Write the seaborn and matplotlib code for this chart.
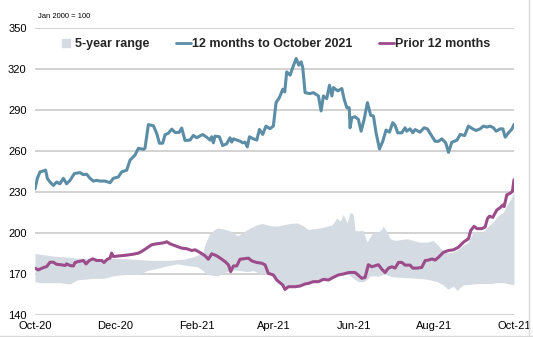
import matplotlib
matplotlib.use("Agg")
import matplotlib.pyplot as plt
import matplotlib.dates as mdates
from matplotlib.lines import Line2D
import numpy as np
import pandas as pd
import seaborn as sns

# Index level, Jan 2000 = 100. Positions are days after 1 Oct 2020.
start = pd.Timestamp("2020-10-01")

current_day = [0, 1.8, 3.8, 6.4, 8.1, 9.4, 11.4, 14, 16.5, 19, 21.6, 24.1, 26.7, 30, 34.3,
               36.8, 39.4, 41.9, 44.5, 47, 49.5, 53.4, 57.2, 59.7, 63.5, 66, 69.9, 72.4,
               76.2, 78.8, 82.6, 83.8, 86.4, 90.2, 92.7, 94.8, 97.3, 99.1, 101.6, 104.2,
               106.7, 109.8, 111.8, 114.3, 118.1, 120.7, 123.2, 127.8, 130.8, 133.4, 134.6,
               135.9, 137.2, 140.5, 143, 146, 148.6, 149.9, 151.2, 153.7, 156.2, 158.3, 160,
               161.8, 163.4, 166.4, 169, 171, 173.5, 176, 179, 181.6, 183.7, 186.2, 188.8,
               190.3, 191.8, 194.4, 196.4, 199, 201, 202.8, 204, 205.8, 209.6, 212.1, 216,
               218, 219.8, 222.3, 224.4, 226.2, 227.4, 230.7, 233.8, 235.6, 237.6, 239.4,
               240.1, 241.4, 243.9, 246.4, 248.5, 250.8, 253.3, 255.8, 257.9, 259.9, 262.5,
               265, 267.5, 270.1, 272.6, 274.4, 276.4, 279.5, 282, 283.3, 285.8, 287.9,
               289.6, 293.4, 296.5, 299, 301.6, 304.9, 307.4, 310, 313, 315.1, 317.6, 321.5,
               324, 327.4, 330.2, 333.6, 336.1, 339.2, 341.7, 344.3, 346.8, 349.3, 351.4,
               354.4, 356.5, 358.3, 360.8, 363.5, 365]
current_val = [232.3, 240, 244.7, 245.4, 246, 240, 237.3, 234.8, 237.3, 236, 240, 236, 238.5,
               243.5, 244.2, 242.7, 243, 240, 238, 238.5, 238, 238, 236.8, 240, 241, 244.7,
               246, 253.3, 257, 262, 261.2, 262, 279.3, 278.5, 273, 265.7, 265.7, 271.9, 273,
               276, 273.6, 273.6, 276.8, 267.7, 268, 271.4, 269.7, 272.1, 270.1, 268, 270.4,
               266, 270.9, 270.4, 264, 265.2, 269.7, 266.5, 268.9, 268, 267.2, 266, 266.5,
               263, 270.4, 268.9, 268, 275.8, 272.1, 278.2, 276.3, 278.2, 295.4, 299, 305.2,
               303.2, 317.9, 315.5, 321.1, 327.7, 322.8, 325.3, 321.1, 302.7, 302, 302.7,
               300.3, 289.3, 300.3, 298.3, 308.1, 300.3, 306.4, 304, 305.7, 297.8, 291.7,
               291.7, 277, 284.3, 285.1, 283.1, 274.5, 283.1, 295.4, 286.1, 285.6, 273.3,
               261.5, 267.1, 275.3, 273.8, 280.7, 278.7, 273.3, 273.3, 277, 274.5, 276.2,
               273.3, 275.7, 273.8, 277, 276.2, 272.1, 267.1, 267.1, 268.9, 265.9, 259,
               266.4, 267.9, 272.1, 271.3, 278.2, 276.2, 275, 276.2, 278.2, 277.5, 278.2,
               277, 274.5, 276.2, 276.2, 270.1, 273.3, 276.2, 279.4]

prior_day = [0, 2.5, 6.4, 8.9, 11.4, 14, 16.5, 20.3, 22.9, 24.1, 26.7, 29.2, 30.5, 33, 36.8,
             38.9, 41.4, 44, 47, 50.8, 52.6, 55.1, 57.2, 58.4, 59.7, 64.8, 69.9, 74.9, 78.8,
             81.3, 85.1, 88.9, 92.7, 96.6, 99.1, 100.4, 102.9, 106.7, 111.8, 115.6, 119.4,
             122, 125.8, 129.6, 132.1, 134.7, 138.5, 142.3, 144.8, 147.4, 149.1, 151.2,
             153.7, 156.2, 162.6, 165.2, 169, 172.8, 175.3, 177.8, 181.6, 184.2, 186.7,
             188.8, 190.5, 193.1, 198.2, 202, 205.8, 208.3, 212.1, 216, 219.8, 223.6, 227.4,
             231.2, 235, 238.8, 240.1, 243.9, 246.4, 248.9, 251.5, 254, 256.6, 259.1, 261.7,
             264.2, 266.8, 269.3, 271.9, 274.4, 277, 279.5, 282, 285.8, 287.9, 290.9, 294.7,
             297.3, 299.8, 302.4, 304.9, 307.4, 311.3, 315.1, 318.9, 322.7, 326.5, 330.3,
             332.1, 334.6, 336.7, 340.5, 343, 344.8, 346.3, 348.8, 351.9, 354.4, 356.5,
             357.5, 359.5, 362.1, 363.8, 365]
prior_val = [174.2, 173, 174.7, 175.4, 178.6, 178.6, 177.1, 176.7, 176.2, 177.4, 176.2, 175.9,
             178.4, 179.1, 179.9, 177.4, 179.9, 181.1, 179.9, 179.9, 178.4, 180.8, 181.6,
             185.3, 182.8, 183.3, 183.8, 184.5, 185.3, 186.5, 188.9, 191.4, 192.1, 192.6,
             193.1, 193.6, 192.1, 190.7, 188.9, 188.5, 187.2, 187.7, 185.7, 183.3, 180.8,
             184.8, 183.3, 180.8, 179.1, 176.7, 171.7, 175.9, 175.9, 180.8, 181.6, 179.6,
             178.4, 177.9, 176.7, 170.5, 169.3, 165.6, 163.6, 161.9, 158.7, 160.7, 160.7,
             161.2, 162.7, 163.1, 164.4, 164.4, 166.1, 165.6, 167.6, 169.3, 170, 171, 171.1,
             171.1, 169.1, 166.9, 167.4, 176.8, 175.3, 176, 176.8, 173.6, 171.1, 174.3,
             175.3, 174.3, 178.5, 178.5, 176.5, 176.5, 174.3, 174.3, 174.8, 179.8, 180.2,
             181, 180.2, 182.2, 185.9, 187.2, 187.7, 189.6, 193.3, 195.8, 202, 204.9, 203.2,
             203.2, 204.4, 210.6, 212.3, 211.4, 216.8, 218.5, 220.5, 219.3, 227.9, 229.1,
             230.4, 239]

range_hi_day = [0, 7.6, 15.2, 22.9, 34.3, 49.5, 61, 72.4, 87.7, 102.9, 114.3, 122, 128,
                129.6, 133.4, 138.7, 143.3, 148.6, 150.9, 154.7, 158.5, 163.9, 169.2, 173,
                179.1, 184.5, 189, 194.4, 199.7, 204.3, 208.1, 211.9, 217.2, 222.6, 226.4,
                230.2, 232.5, 234.8, 237.8, 240.1, 242.4, 243.9, 246.2, 250, 253, 255.3,
                257.6, 261.4, 264.5, 265.2, 268.3, 270.6, 274.4, 278.2, 283.5, 288.1, 293.4,
                298.8, 303.4, 307.2, 310.2, 314, 318.6, 322.4, 326.2, 330, 332.3, 334.6,
                340.7, 345.3, 349.1, 352.1, 356.7, 359.8, 362, 365]
range_hi_val = [185, 184, 183, 182.5, 181.5, 181, 181.5, 181, 180, 180, 181, 183, 186, 192,
                200, 203.7, 203, 201.5, 200, 198, 200.5, 203.7, 206, 207, 205.4, 205, 206,
                207, 207.4, 205.4, 202.5, 203, 203.7, 205, 206, 211, 208.6, 213.5, 207.4, 215,
                214, 202, 201.5, 202, 193.3, 197, 200.7, 200.7, 203.2, 205, 200.7, 195.8,
                194.6, 195.1, 195.8, 194.6, 193.3, 193.3, 194.6, 190.9, 187.7, 185.5, 186,
                188, 191, 193, 198, 201, 200, 205, 208, 212, 215, 221, 224, 230]

range_lo_day = [0, 3.8, 11.4, 19, 26.7, 32, 36.6, 44.2, 51.8, 59.5, 64.8, 72.4, 80, 85.4, 93,
                100.6, 108.2, 112.8, 118.1, 123.5, 127.3, 129.6, 133.4, 138.7, 142.5, 146.3,
                150.9, 156.2, 161.6, 166.2, 171.5, 177.8, 181.6, 184.2, 186.7, 188.8, 190.5,
                193.1, 198.2, 202, 205.8, 208.3, 212.1, 216, 219.8, 223.6, 227.4, 231.2, 235,
                238.8, 240.1, 243.9, 246.2, 250, 253, 255.3, 262.9, 265.2, 272.9, 280.5,
                291.2, 298.8, 306.4, 311, 314.8, 318.6, 321.6, 326.2, 331.5, 339.2, 346.8,
                352.1, 356.7, 365]
range_lo_val = [164.4, 163.6, 163.6, 163.6, 162.7, 165.6, 166.1, 166.8, 166.8, 168.6, 169.3,
                169.8, 170, 172.5, 174.2, 175.9, 177.4, 176.7, 175.9, 175.4, 173, 171, 169.3,
                168.6, 170, 171.7, 173, 172.5, 171.7, 172.5, 170.5, 170.5, 169.6, 166, 164,
                162.3, 159.2, 161, 161, 161.5, 163, 163.5, 164.8, 164.8, 166.5, 166, 168,
                169.5, 170, 170, 168.6, 166, 164.4, 164.4, 166, 168.6, 168.6, 170, 167.9,
                167.4, 166.9, 166.2, 164.4, 162, 158.8, 161.2, 158, 162, 162.5, 163, 163,
                163.7, 163.7, 162]

y_ticks = [140, 170, 200, 230, 260, 290, 320, 350]
x_ticks = ["2020-10-01", "2020-12-01", "2021-02-01", "2021-04-01",
           "2021-06-01", "2021-08-01", "2021-10-01"]

labels = ["5-year range", "12 months to October 2021", "Prior 12 months"]
colors = {"band": "#d5dbe3", "current": "#5b8ea6", "prior": "#9c4c8a", "grid": "#c6c6c6"}


def to_dates(days):
    return start + pd.to_timedelta(np.asarray(days, dtype=float), unit="D")


current = pd.DataFrame({"date": to_dates(current_day), "value": current_val})
prior = pd.DataFrame({"date": to_dates(prior_day), "value": prior_val})

# The band edges are sampled on different days; put them on one shared axis.
band_days = np.union1d(range_hi_day, range_lo_day)
band = pd.DataFrame({
    "date": to_dates(band_days),
    "hi": np.interp(band_days, range_hi_day, range_hi_val),
    "lo": np.interp(band_days, range_lo_day, range_lo_val),
})

sns.set_theme(style="white")
plt.rcParams["font.family"] = ["Liberation Sans", "DejaVu Sans"]

fig = plt.figure(figsize=(5.33, 3.37), dpi=100)
ax = fig.add_axes([35 / 533, 1 - 315 / 337, 479 / 533, 287 / 337])

ax.fill_between(band["date"], band["lo"], band["hi"], color=colors["band"],
                linewidth=0, zorder=1)
sns.lineplot(data=current, x="date", y="value", ax=ax, color=colors["current"],
             linewidth=2.2, estimator=None, zorder=3)
sns.lineplot(data=prior, x="date", y="value", ax=ax, color=colors["prior"],
             linewidth=2.2, estimator=None, zorder=3)

ax.set_ylim(140, 350)
ax.set_yticks(y_ticks)
ax.set_xlim(pd.Timestamp(x_ticks[0]), pd.Timestamp(x_ticks[-1]))
ax.set_xticks(pd.to_datetime(x_ticks))
ax.xaxis.set_major_formatter(mdates.DateFormatter("%b-%y"))
ax.set_xlabel("")
ax.set_ylabel("")

for v in y_ticks:
    ax.axhline(v, color=colors["grid"], linewidth=1.1, zorder=0)
for s in ax.spines.values():
    s.set_visible(False)
ax.tick_params(axis="both", length=0, labelsize=8, colors="#000000")
ax.tick_params(axis="y", pad=6)
ax.tick_params(axis="x", pad=4)

ax.text(38 / 533, 1 - 16 / 337, "Jan 2000 = 100", transform=fig.transFigure,
        fontsize=5.5, va="center", ha="left", color="#000000")

handles = [
    Line2D([], [], marker="s", linestyle="", markersize=6, color=colors["band"]),
    Line2D([], [], color=colors["current"], linewidth=2.0),
    Line2D([], [], color=colors["prior"], linewidth=2.0),
]
ax.legend(handles, labels, ncol=3, frameon=False, loc="center",
          bbox_to_anchor=(0.5, 1 - (44 - 28) / 287),
          prop={"weight": "bold", "size": 9}, handlelength=1.2,
          handletextpad=0.1, columnspacing=2.1, borderaxespad=0)

# Light frame on the right and bottom edges of the figure
fig.add_artist(Line2D([529 / 533, 529 / 533], [0, 1], transform=fig.transFigure,
                      color="#d9d9d9", linewidth=1))
fig.add_artist(Line2D([0, 1], [1 / 337, 1 / 337], transform=fig.transFigure,
                      color="#d9d9d9", linewidth=1))

fig.savefig("out.png", dpi=100)
